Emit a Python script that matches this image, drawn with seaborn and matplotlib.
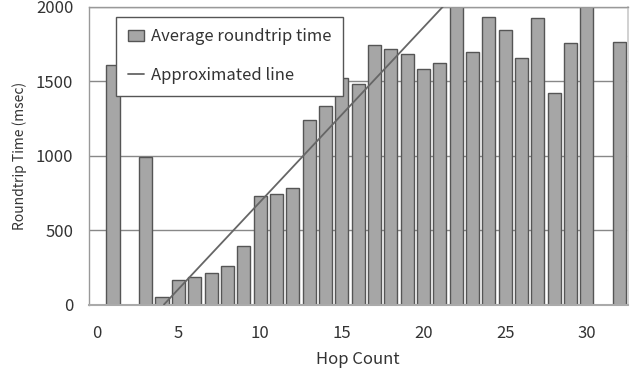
import matplotlib
matplotlib.use("Agg")
import matplotlib.pyplot as plt
import seaborn as sns
import pandas as pd

# Data
hops = [1, 3, 4, 5, 6, 7, 8, 9, 10, 11, 12, 13, 14, 15, 16, 17, 18, 19, 20,
        21, 22, 23, 24, 25, 26, 27, 28, 29, 30, 32]
rtt = [1607, 991, 49, 166, 184, 211, 256, 391, 725, 740, 785, 1241, 1331,
       1517, 1483, 1742, 1713, 1679, 1580, 1618, 2100, 1697, 1931, 1841,
       1652, 1920, 1418, 1753, 2100, 1760]
line_x = [4.12, 21.2]
line_y = [0, 2000]
xticks = [0, 5, 10, 15, 20, 25, 30]
yticks = [0, 500, 1000, 1500, 2000]

sns.set_theme(style="white")
plt.rcParams['font.family'] = ['Noto Sans CJK JP', 'DejaVu Sans']

df = pd.DataFrame({"hop": hops, "rtt": rtt})
ldf = pd.DataFrame({"x": line_x, "y": line_y})

fig = plt.figure(figsize=(6.38, 3.76), dpi=100)
ax = fig.add_axes([88.5 / 638, 1 - 304.5 / 376, 539.2 / 638, (304.5 - 6.5) / 376])

sns.barplot(data=df, x="hop", y="rtt", native_scale=True, color="#a6a6a6",
            saturation=1, edgecolor="#555555", linewidth=1.0, width=0.8,
            label="Average roundtrip time", ax=ax, zorder=2)
sns.lineplot(data=ldf, x="x", y="y", color="#666666", linewidth=1.3,
             label="Approximated line", ax=ax, zorder=3)

ax.set_xlim(-0.5, 32.5)
ax.set_ylim(0, 2000)
ax.set_xticks(xticks)
ax.set_yticks(yticks)
ax.set_axisbelow(True)
ax.yaxis.grid(True, color="#888888", linewidth=1.0)
ax.xaxis.grid(False)
for side in ["left", "top"]:
    ax.spines[side].set_color("#999999")
    ax.spines[side].set_linewidth(1.0)
ax.spines["right"].set_color("#cccccc")
ax.spines["bottom"].set_color("#aaaaaa")
ax.spines["bottom"].set_linewidth(1.5)
ax.tick_params(axis="both", length=0, labelsize=12, colors="#333333")
ax.tick_params(axis="x", pad=15)
ax.tick_params(axis="y", pad=11)
ax.set_xlabel("Hop Count", fontsize=12, color="#333333", labelpad=6)
ax.set_ylabel("Roundtrip Time (msec)", fontsize=10, color="#333333", labelpad=6)

handles, labels = ax.get_legend_handles_labels()
order = [labels.index("Average roundtrip time"), labels.index("Approximated line")]
leg = ax.legend([handles[i] for i in order], [labels[i] for i in order],
                loc="upper left", bbox_to_anchor=(27.5 / 539.2, (304.5 - 16.7) / 298),
                borderaxespad=0, fontsize=12, frameon=True, fancybox=False,
                framealpha=1, edgecolor="#555555", handlelength=1.0,
                handletextpad=0.4, labelspacing=1.3, borderpad=0.7)
leg.get_frame().set_linewidth(1.0)
for t in leg.get_texts():
    t.set_color("#333333")

fig.savefig("out.png", dpi=100)
